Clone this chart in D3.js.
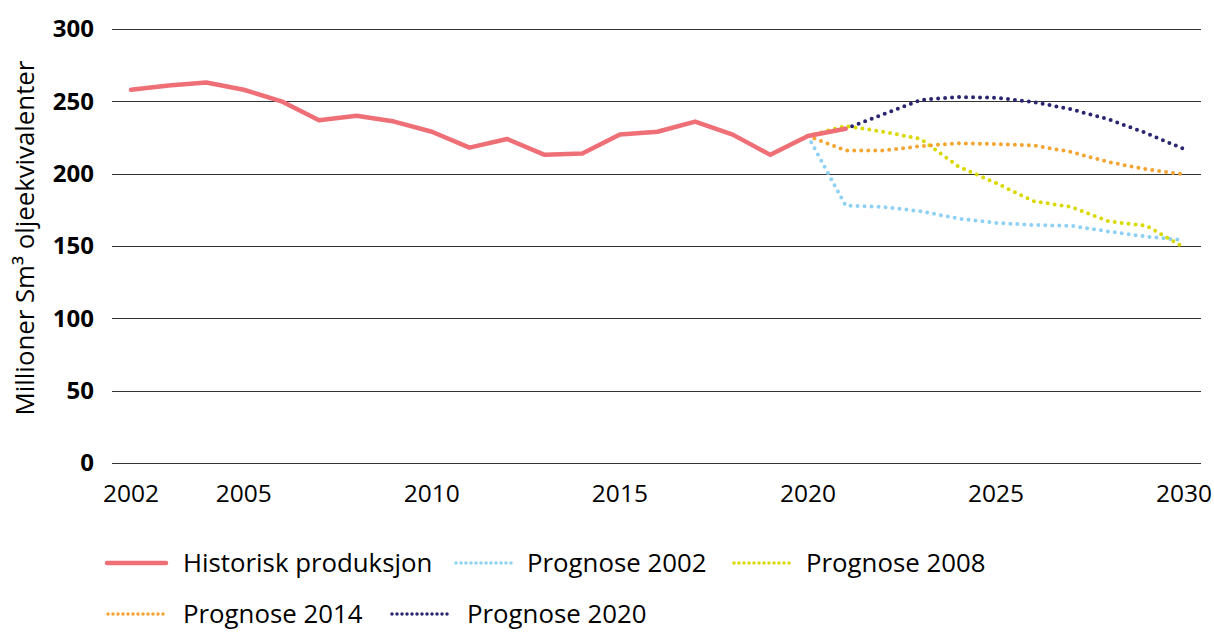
<!DOCTYPE html>
<html lang="no">
<head>
  <meta charset="UTF-8">
  <title>Produksjon og prognoser</title>
  <script src="https://d3js.org/d3.v7.min.js"></script>
  <style>
    body { margin: 0; background: #fff; }
    svg { font-family: "Open Sans", sans-serif; }
    .grid { stroke: #333; stroke-width: 1; shape-rendering: crispEdges; }
    .ytick { font-weight: bold; font-size: 24px; fill: #000; }
    .xtick { font-size: 24.5px; fill: #000; }
    .legend text { font-size: 25.8px; fill: #000; }
  </style>
</head>
<body>
<svg id="chart" width="1214" height="632"></svg>
<script>
  // Data
  const histYears = d3.range(2002, 2022);
  const historisk = [258, 261, 263, 258, 250, 237, 240, 236, 229, 218,
                     224, 213, 214, 227, 229, 236, 227, 213, 226, 231];

  const progYears = d3.range(2020, 2031);
  const prognose2002 = [226, 178, 177, 174, 169, 166, 164.5, 164, 160, 156.5, 154];
  const prognose2008 = [226, 233, 229, 224, 205, 193.5, 181, 177, 167, 164, 149];
  const prognose2014 = [226, 216, 216, 219, 221, 220.5, 219.5, 215, 208, 203, 199.5];

  const prog2020Years = d3.range(2021, 2031);
  const prognose2020 = [231, 241, 251, 253, 252.5, 249.5, 244.5, 237.5, 228, 217];

  const yTicks = [0, 50, 100, 150, 200, 250, 300];
  const xTicks = [2002, 2005, 2010, 2015, 2020, 2025, 2030];

  const series = [
    { name: "Prognose 2002", years: progYears, values: prognose2002, color: "#8fd1f2", dotted: true },
    { name: "Prognose 2008", years: progYears, values: prognose2008, color: "#d9d900", dotted: true },
    { name: "Prognose 2014", years: progYears, values: prognose2014, color: "#f5a432", dotted: true },
    { name: "Prognose 2020", years: prog2020Years, values: prognose2020, color: "#2b2670", dotted: true },
    { name: "Historisk produksjon", years: histYears, values: historisk, color: "#ef6f77", dotted: false }
  ];

  const svg = d3.select("#chart");

  const x = d3.scaleLinear().domain([2002, 2030]).range([131, 1184]);
  const y = d3.scaleLinear().domain([0, 300]).range([463, 29]);

  // Gridlines
  svg.append("g")
    .selectAll("line")
    .data(yTicks)
    .join("line")
    .attr("class", "grid")
    .attr("x1", x(2002) - 19)
    .attr("x2", x(2030) + 17)
    .attr("y1", d => Math.round(y(d)) + 0.5)
    .attr("y2", d => Math.round(y(d)) + 0.5);

  // Y tick labels
  svg.append("g")
    .selectAll("text")
    .data(yTicks)
    .join("text")
    .attr("class", "ytick")
    .attr("x", 94)
    .attr("y", d => y(d))
    .attr("dy", "0.35em")
    .attr("text-anchor", "end")
    .text(d => d);

  // X tick labels
  svg.append("g")
    .selectAll("text")
    .data(xTicks)
    .join("text")
    .attr("class", "xtick")
    .attr("x", d => x(d))
    .attr("y", 502)
    .attr("text-anchor", "middle")
    .text(d => d);

  // Y axis title
  svg.append("text")
    .attr("transform", "translate(34,238) rotate(-90)")
    .attr("text-anchor", "middle")
    .style("font-size", "25.8px")
    .text("Millioner Sm³ oljeekvivalenter");

  // Lines
  const line = d3.line()
    .x(d => x(d[0]))
    .y(d => y(d[1]));

  svg.append("g")
    .selectAll("path")
    .data(series)
    .join("path")
    .attr("fill", "none")
    .attr("stroke", d => d.color)
    .attr("stroke-width", d => d.dotted ? 4 : 4.5)
    .attr("stroke-linecap", "round")
    .attr("stroke-linejoin", "round")
    .attr("stroke-dasharray", d => d.dotted ? "0 7" : null)
    .attr("d", d => line(d.years.map((yr, i) => [yr, d.values[i]])));

  // Legend
  const legendItems = [
    { s: series[4], x: 107, tx: 183, y: 563 },
    { s: series[0], x: 455, tx: 527, y: 563 },
    { s: series[1], x: 733, tx: 806, y: 563 },
    { s: series[2], x: 107, tx: 183, y: 614 },
    { s: series[3], x: 391, tx: 467, y: 614 }
  ];

  const legend = svg.append("g").attr("class", "legend")
    .selectAll("g")
    .data(legendItems)
    .join("g")
    .attr("transform", d => `translate(${d.x},${d.y})`);

  legend.append("line")
    .attr("x1", d => d.s.dotted ? 1 : 0)
    .attr("x2", 59)
    .attr("stroke", d => d.s.color)
    .attr("stroke-width", d => d.s.dotted ? 3.5 : 4.5)
    .attr("stroke-linecap", "round")
    .attr("stroke-dasharray", d => d.s.dotted ? "0 5" : null);

  legend.append("text")
    .attr("x", d => d.tx - d.x)
    .attr("dy", "0.35em")
    .text(d => d.s.name);
</script>
</body>
</html>
